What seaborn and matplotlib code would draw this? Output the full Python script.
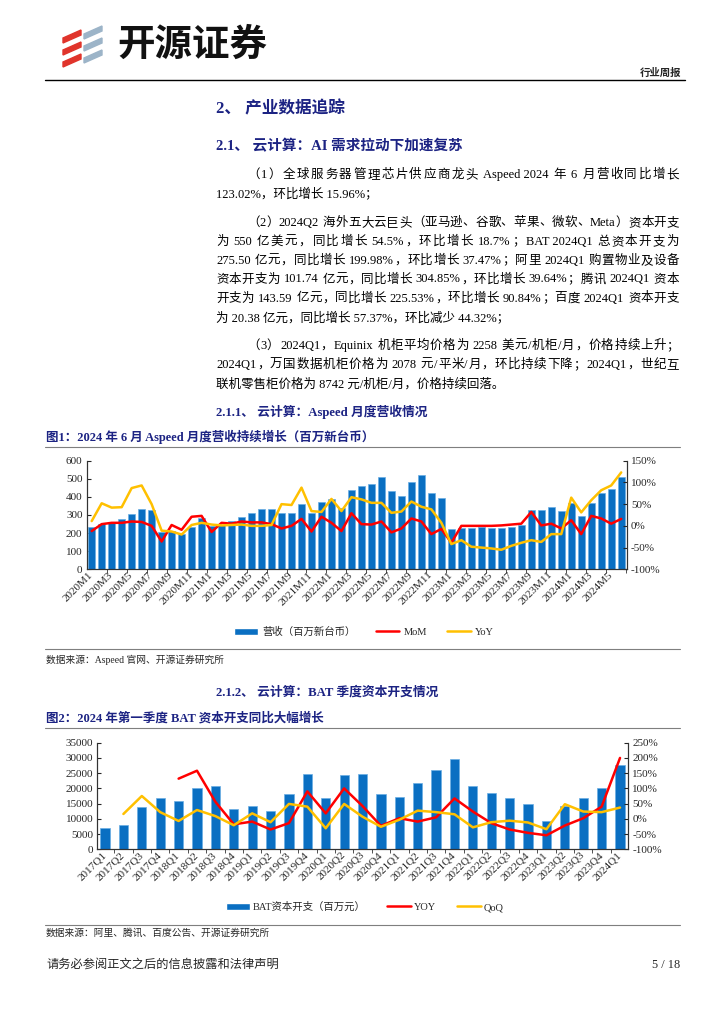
import re
import numpy as np
import pandas as pd
import seaborn as sns
import matplotlib
matplotlib.use("Agg")
import matplotlib.pyplot as plt
from matplotlib.patches import Patch, Polygon
from matplotlib.lines import Line2D

# ---------------- data ----------------
months = [f"{y}M{m}" for y in range(2020, 2025) for m in range(1, 13)][:54]
revenue = [236, 250, 263, 278, 305, 331, 328, 208, 212, 193, 236, 285, 241, 245, 267,
           287, 309, 333, 333, 309, 311, 361, 309, 374, 388, 337, 438, 458, 469, 510,
           431, 407, 482, 523, 423, 396,
           225, 226, 228, 232, 230, 228, 236, 245, 326, 329, 346, 322, 366, 294, 364,
           421, 442, 510]
mom = [-12, 4, 7, 7, 10, 9, 0, -36, 2, -9, 21, 23, -14, 7, 5,
       10, 8, 8, 4, -6, 0, 16, -13, 21, 7, -12, 29, 4, 3, 10, -15, -6, 17, 10, -19,
       -7, -39, 0, 0, 0, 0, 1, 3, 5, 32, 1, 5, -6, 13, -19, 23, 17, 5, 16]
yoy = [11, 52, 42, 43, 87, 93, 50, -11, -13, -20, 2, 7, 3, 1, 2,
       3, 0, 0, 2, 50, 48, 88, 34, 32, 62, 34, 66, 61, 53, 53, 30, 33, 56, 44, 38,
       7, -42, -33, -48, -50, -52, -55, -46, -39, -33, -37, -19, -19, 65, 31, 59, 82, 93, 123]

quarters = [f"{y}Q{q}" for y in range(2017, 2025) for q in range(1, 5)][:29]
bat_capex = [7100, 8100, 13900, 16900, 15800, 20100, 20900, 13300, 14300, 12500,
             18000, 24800, 16700, 24300, 24800, 18000, 17300, 21700, 26100, 29600,
             20800, 18400, 17000, 14800, 9200, 14100, 17000, 20050, 27550]
bat_yoy = [np.nan, np.nan, np.nan, np.nan, 132, 158, 56, -18, -9, -35, -14, 90, 18, 100,
           42, -23, 2, -9, 5, 67, 24, -14, -35, -46, -54, -22, 2, 40, 200]
bat_qoq = [np.nan, 16, 75, 22, -7, 29, 9, -21, 18, -11, 49, 40, -31, 49, 7, -26,
           -3, 27, 22, 15, -28, -11, -6, -12, -34, 48, 24, 22, 37]

BLUE = "#0A6FC2"
RED = "#FF0000"
GOLD = "#FFC000"
NAVY = "#1C2383"
FONTS = ["Liberation Serif", "Noto Sans CJK SC", "DejaVu Sans"]

sns.set_style("white")
plt.rcParams["font.family"] = FONTS
plt.rcParams["axes.unicode_minus"] = False

W, H = 724, 1024
fig = plt.figure(figsize=(7.24, 10.24), dpi=100)
renderer = fig.canvas.get_renderer()


def fx(px):
    return px / W


def fy(py):
    return 1 - py / H


def hline(y, x0, x1, color="#7F7F7F", lw=0.8):
    fig.add_artist(Line2D([fx(x0), fx(x1)], [fy(y), fy(y)], color=color, lw=lw))


CJK = "\u3000-\u303f\u4e00-\u9fff\uff00-\uffef"
SPACE = 3.5  # px for a space between latin and chinese


def body_line(s, y, x0=216, x1=679, justify=True):
    style = dict(fontsize=9, color="black", va="center", ha="left")
    if not justify:
        fig.text(fx(x0), fy(y), s, **style)
        return
    tokens, extra = [], []
    pending = 0.0
    for m in re.finditer(f"[{CJK}]|[^{CJK}]+", s):
        raw = m.group(0)
        t = raw.strip()
        if raw[:1] == " ":
            pending += SPACE
        if t:
            tokens.append(t)
            extra.append(pending if tokens[1:] else 0.0)
            pending = 0.0
        if raw[-1:] == " " and t:
            pending += SPACE
    arts = [fig.text(0, fy(y), t, **style) for t in tokens]
    widths = [a.get_window_extent(renderer).width for a in arts]
    gap = (x1 - x0 - sum(widths) - sum(extra)) / (len(tokens) - 1)
    x = x0
    for a, w, e in zip(arts, widths, extra):
        x += e
        a.set_x(fx(x))
        x += w + gap


# ---------------- page header ----------------
for yc in [30, 42, 54]:
    fig.add_artist(Polygon([(fx(63), fy(yc + 8)), (fx(81), fy(yc)), (fx(81), fy(yc + 5)),
                            (fx(63), fy(yc + 13))], closed=True, color="#E0342B"))
    fig.add_artist(Polygon([(fx(84), fy(yc + 4)), (fx(102), fy(yc - 4)), (fx(102), fy(yc + 1)),
                            (fx(84), fy(yc + 9))], closed=True, color="#9CB4C8"))
fig.text(fx(117), fy(44), "开源证券", fontsize=27, fontweight="bold", color="#111111",
         family=["Noto Sans CJK SC"], va="center", ha="left")
fig.text(fx(681), fy(73), "行业周报", fontsize=7.5, fontweight="bold", va="center", ha="right")
hline(80, 45, 685, color="black", lw=1.0)

# ---------------- headings and body ----------------
fig.text(fx(216), fy(109), "2、 产业数据追踪", fontsize=12, fontweight="bold", color=NAVY, va="center")
fig.text(fx(216), fy(146), "2.1、 云计算：AI 需求拉动下加速复苏", fontsize=10.5, fontweight="bold",
         color=NAVY, va="center")

body_line("（1）全球服务器管理芯片供应商龙头 Aspeed 2024 年 6 月营收同比增长", 175, x0=247)
body_line("123.02%，环比增长 15.96%；", 194, justify=False)

body_line("（2）2024Q2 海外五大云巨头（亚马逊、谷歌、苹果、微软、Meta）资本开支", 222.7, x0=247)
body_line("为 550 亿美元，同比增长 54.5%，环比增长 18.7%；BAT 2024Q1 总资本开支为", 241.7)
body_line("275.50 亿元，同比增长 199.98%，环比增长 37.47%；阿里 2024Q1 购置物业及设备", 260.7)
body_line("资本开支为 101.74 亿元，同比增长 304.85%，环比增长 39.64%；腾讯 2024Q1 资本", 279.5)
body_line("开支为 143.59 亿元，同比增长 225.53%，环比增长 90.84%；百度 2024Q1 资本开支", 298.5)
body_line("为 20.38 亿元，同比增长 57.37%，环比减少 44.32%；", 317.5, justify=False)

body_line("（3）2024Q1，Equinix 机柜平均价格为 2258 美元/机柜/月，价格持续上升；", 346, x0=247)
body_line("2024Q1，万国数据机柜价格为 2078 元/平米/月，环比持续下降；2024Q1，世纪互", 365)
body_line("联机零售柜价格为 8742 元/机柜/月，价格持续回落。", 384, justify=False)

fig.text(fx(216), fy(411.5), "2.1.1、 云计算：Aspeed 月度营收情况", fontsize=9.2, fontweight="bold",
         color=NAVY, va="center")
fig.text(fx(46), fy(437), "图1：2024 年 6 月 Aspeed 月度营收持续增长（百万新台币）", fontsize=9,
         fontweight="bold", color=NAVY, va="center")
hline(447, 45, 680)


def style_axes(ax, axr):
    for a in (ax, axr):
        a.spines["top"].set_visible(False)
        for s in ("left", "right", "bottom"):
            a.spines[s].set_color("#333333")
            a.spines[s].set_linewidth(0.8)
        a.set_xlabel("")
        a.set_ylabel("")
    ax.tick_params(axis="y", direction="in", length=3, labelsize=8, pad=3, left=True)
    axr.tick_params(axis="y", direction="in", length=3, labelsize=8, pad=3, right=True)
    ax.tick_params(axis="x", which="major", length=0, labelsize=8, pad=3)
    ax.tick_params(axis="x", which="minor", direction="out", length=3, bottom=True, color="#333333")


# ---------------- chart 1 ----------------
ax1 = fig.add_axes([fx(86.7), fy(569.3), fx(626.7) - fx(86.7), fy(460.7) - fy(569.3)])
df1 = pd.DataFrame({"pos": np.arange(len(months)), "rev": revenue, "mom": mom, "yoy": yoy})
sns.barplot(data=df1, x="pos", y="rev", native_scale=True, width=0.7, color=BLUE, saturation=1,
            errorbar=None, edgecolor="#6AAEE3", linewidth=0.5, ax=ax1)
ax1r = ax1.twinx()
sns.lineplot(data=df1, x="pos", y="mom", color=RED, lw=1.8, errorbar=None, ax=ax1r)
sns.lineplot(data=df1, x="pos", y="yoy", color=GOLD, lw=1.8, errorbar=None, ax=ax1r)
ax1.set_ylim(0, 600)
ax1r.set_ylim(-100, 150)
ax1.set_yticks(range(0, 601, 100))
ax1r.set_yticks(range(-100, 151, 50))
ax1r.set_yticklabels([f"{v}%" for v in range(-100, 151, 50)])
ax1.set_xticks(np.arange(0, 54, 2))
ax1.set_xticklabels(months[::2], rotation=45, ha="right", va="center", rotation_mode="anchor")
ax1.set_xticks(np.arange(1.5, 54, 2), minor=True)
ax1.set_xlim(-0.5, 53.55)
style_axes(ax1, ax1r)

fig.legend(handles=[Patch(facecolor=BLUE), Line2D([], [], color=RED, lw=1.8),
                    Line2D([], [], color=GOLD, lw=1.8)],
           labels=["营收（百万新台币）", "MoM", "YoY"], loc="center",
           bbox_to_anchor=(fx(364), fy(632)), ncol=3, frameon=False, fontsize=7.5,
           handlelength=2.3, handleheight=0.7, handletextpad=0.4, columnspacing=1.9)
hline(649, 45, 680)
fig.text(fx(46), fy(660), "数据来源：Aspeed 官网、开源证券研究所", fontsize=7, va="center")

# ---------------- chart 2 ----------------
fig.text(fx(216), fy(692), "2.1.2、 云计算：BAT 季度资本开支情况", fontsize=9.2, fontweight="bold",
         color=NAVY, va="center")
fig.text(fx(46), fy(718), "图2：2024 年第一季度 BAT 资本开支同比大幅增长", fontsize=9,
         fontweight="bold", color=NAVY, va="center")
hline(727.5, 45, 680)

ax2 = fig.add_axes([fx(97.3), fy(849.3), fx(628.3) - fx(97.3), fy(742.7) - fy(849.3)])
df2 = pd.DataFrame({"pos": np.arange(len(quarters)), "capex": bat_capex,
                    "yoy": bat_yoy, "qoq": bat_qoq})
sns.barplot(data=df2, x="pos", y="capex", native_scale=True, width=0.5, color=BLUE, saturation=1,
            errorbar=None, edgecolor="#6AAEE3", linewidth=0.5, ax=ax2)
ax2r = ax2.twinx()
sns.lineplot(data=df2, x="pos", y="yoy", color=RED, lw=1.8, errorbar=None, ax=ax2r)
sns.lineplot(data=df2, x="pos", y="qoq", color=GOLD, lw=1.8, errorbar=None, ax=ax2r)
ax2.set_ylim(0, 35000)
ax2r.set_ylim(-100, 250)
ax2.set_yticks(range(0, 35001, 5000))
ax2r.set_yticks(range(-100, 251, 50))
ax2r.set_yticklabels([f"{v}%" for v in range(-100, 251, 50)])
ax2.set_xticks(np.arange(len(quarters)))
ax2.set_xticklabels(quarters, rotation=45, ha="right", va="center", rotation_mode="anchor")
ax2.set_xticks(np.arange(-0.5, 29, 1), minor=True)
ax2.set_xlim(-0.42, 28.45)
style_axes(ax2, ax2r)

fig.legend(handles=[Patch(facecolor=BLUE), Line2D([], [], color=RED, lw=1.8),
                    Line2D([], [], color=GOLD, lw=1.8)],
           labels=["BAT资本开支（百万元）", "YOY", "QoQ"], loc="center",
           bbox_to_anchor=(fx(365), fy(907)), ncol=3, frameon=False, fontsize=7.5,
           handlelength=2.3, handleheight=0.7, handletextpad=0.3, columnspacing=2.0)
hline(924.5, 45, 680)
fig.text(fx(46), fy(932.5), "数据来源：阿里、腾讯、百度公告、开源证券研究所", fontsize=7, va="center")

# ---------------- footer ----------------
fig.text(fx(46), fy(965), "请务必参阅正文之后的信息披露和法律声明", fontsize=8.8, va="center")
fig.text(fx(680), fy(965), "5 / 18", fontsize=8.8, va="center", ha="right")

fig.savefig("out.png", dpi=100, facecolor="white")
